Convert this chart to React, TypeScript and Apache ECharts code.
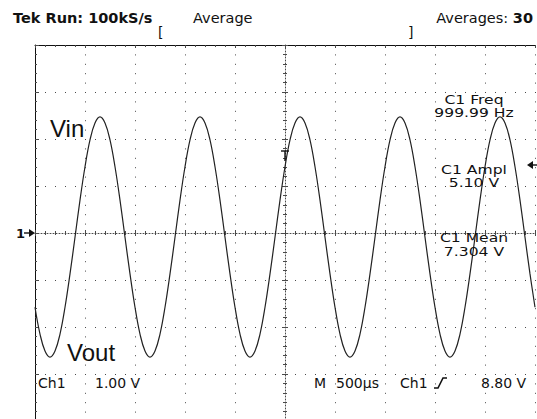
import React, { useEffect, useRef } from "react";
import * as echarts from "echarts";

// Acquisition record: samples 50 µs apart, centred on the trigger point.
const SAMPLE_INTERVAL_US = 50;
const RECORD_START_US = -2500;

// Screen span: 10 horizontal divisions of 500 µs, 8 vertical divisions of 1 V.
const TIME_MIN_US = -2500;
const TIME_MAX_US = 2500;
const TIME_PER_DIV_US = 500;
const VOLT_MIN = -4;
const VOLT_MAX = 4;
const VOLTS_PER_DIV = 1;

// Channel 1 trace in volts, relative to the ground marker.
const ch1Volts = [
  -1.58, -2.15, -2.51, -2.64, -2.51, -2.15, -1.58, -0.87, -0.09, 0.7,
  1.41, 1.98, 2.34, 2.47, 2.34, 1.98, 1.41, 0.7, -0.09, -0.87,
  -1.58, -2.15, -2.51, -2.64, -2.51, -2.15, -1.58, -0.87, -0.09, 0.7,
  1.41, 1.98, 2.34, 2.47, 2.34, 1.98, 1.41, 0.7, -0.09, -0.87,
  -1.58, -2.15, -2.51, -2.64, -2.51, -2.15, -1.58, -0.87, -0.09, 0.7,
  1.41, 1.98, 2.34, 2.47, 2.34, 1.98, 1.41, 0.7, -0.09, -0.87,
  -1.58, -2.15, -2.51, -2.64, -2.51, -2.15, -1.58, -0.87, -0.09, 0.7,
  1.41, 1.98, 2.34, 2.47, 2.34, 1.98, 1.41, 0.7, -0.09, -0.87,
  -1.58, -2.15, -2.51, -2.64, -2.51, -2.15, -1.58, -0.87, -0.09, 0.7,
  1.41, 1.98, 2.34, 2.47, 2.34, 1.98, 1.41, 0.7, -0.09, -0.87,
  -1.58,
];

// Readouts
const statusText = "Tek Run: 100kS/s";
const acquireMode = "Average";
const averagesLabel = "Averages:";
const averagesCount = "30";
const measurements = [
  { label: "C1 Freq", value: "999.99 Hz" },
  { label: "C1 Ampl", value: "5.10 V" },
  { label: "C1 Mean", value: "7.304 V" },
];
const channelName = "Ch1";
const channelScale = "1.00 V";
const timebase = "500µs";
const triggerLevel = "8.80 V";
const inputLabel = "Vin";
const outputLabel = "Vout";

const INK = "#111";
const DOTS = "#4a4a4a";
const SCOPE_FONT = "DejaVu Sans";

function text(x: number, y: number, str: string, size: number, opts: any = {}) {
  const align = opts.align || "left";
  return {
    type: "text",
    x,
    y,
    scaleX: opts.scaleX || 1,
    silent: true,
    z: 20,
    style: {
      text: str,
      fill: INK,
      fontSize: size,
      fontFamily: opts.family || SCOPE_FONT,
      fontWeight: opts.weight || "normal",
      align,
      textAlign: align,
      verticalAlign: "middle",
      textVerticalAlign: "middle",
    },
  };
}

export default function App() {
  const ref = useRef<HTMLDivElement>(null);

  useEffect(() => {
    document.body.style.margin = "0";
    if (!ref.current) return;
    const chart = echarts.init(ref.current, undefined, { renderer: "svg" });

    const trace = ch1Volts.map((v, i) => [RECORD_START_US + i * SAMPLE_INTERVAL_US, v]);

    const xBase = {
      type: "value",
      min: TIME_MIN_US,
      max: TIME_MAX_US,
      interval: TIME_PER_DIV_US,
      axisLabel: { show: false },
      splitLine: { show: false },
    };
    const yBase = {
      type: "value",
      min: VOLT_MIN,
      max: VOLT_MAX,
      interval: VOLTS_PER_DIV,
      axisLabel: { show: false },
      splitLine: { show: false },
    };

    // Centre graticule lines carry small cross ticks on both sides.
    const centreTick = { show: true, length: 3, lineStyle: { color: DOTS, width: 1 } };
    const centreMinor = { show: true, splitNumber: 5, length: 2, lineStyle: { color: DOTS, width: 1 } };

    const graphic: any[] = [];
    graphic.push(text(13, 18, statusText, 14.5, { weight: "bold" }));
    graphic.push(text(193, 18, acquireMode, 14.5));
    graphic.push({
      type: "text",
      x: 533,
      y: 18,
      silent: true,
      z: 20,
      style: {
        text: `{a|${averagesLabel}} {b|${averagesCount}}`,
        align: "right",
        textAlign: "right",
        verticalAlign: "middle",
        textVerticalAlign: "middle",
        fill: INK,
        fontSize: 14.5,
        fontFamily: SCOPE_FONT,
        rich: {
          a: { fontSize: 14.5, fontFamily: SCOPE_FONT, fill: INK },
          b: { fontSize: 14.5, fontFamily: SCOPE_FONT, fontWeight: "bold", fill: INK },
        },
      },
    });
    graphic.push(text(158, 32, "[", 14));
    graphic.push(text(408, 32, "]", 14));

    // Measurement readouts on the right of the screen (wide, compact screen font)
    const measY = [100, 170, 238];
    const measGap = [12.5, 12.5, 14];
    measurements.forEach((m, i) => {
      graphic.push(text(474, measY[i], m.label, 12, { align: "center", scaleX: 1.3 }));
      graphic.push(text(474, measY[i] + measGap[i], m.value, 12, { align: "center", scaleX: 1.3 }));
    });

    graphic.push(text(50, 128, inputLabel, 24, { family: "Liberation Sans" }));
    graphic.push(text(67, 352, outputLabel, 24, { family: "Liberation Sans" }));

    // Bottom status line
    graphic.push(text(38, 383, channelName, 14));
    graphic.push(text(95, 383, channelScale, 14));
    graphic.push(text(314, 383, "M", 14));
    graphic.push(text(336, 383, timebase, 14));
    graphic.push(text(400, 383, channelName, 14));
    graphic.push(text(481, 383, triggerLevel, 14));
    // rising-edge trigger slope symbol
    graphic.push({
      type: "polyline",
      silent: true,
      z: 20,
      shape: { points: [[434, 388], [438, 388], [443, 378], [447, 378]] },
      style: { stroke: INK, lineWidth: 1.6, fill: null },
    });

    // Channel 1 ground marker
    graphic.push(text(16, 233, "1", 13, { weight: "bold" }));
    graphic.push({
      type: "line",
      silent: true,
      z: 20,
      shape: { x1: 24, y1: 233, x2: 30, y2: 233 },
      style: { stroke: INK, lineWidth: 1.4 },
    });
    graphic.push({
      type: "polygon",
      silent: true,
      z: 20,
      shape: { points: [[29, 229], [35, 233], [29, 237]] },
      style: { fill: INK },
    });

    // Trigger level marker on the right edge
    graphic.push({
      type: "polygon",
      silent: true,
      z: 20,
      shape: { points: [[527, 165], [533, 161], [533, 169]] },
      style: { fill: INK },
    });
    graphic.push({
      type: "line",
      silent: true,
      z: 20,
      shape: { x1: 532, y1: 165, x2: 537, y2: 165 },
      style: { stroke: INK, lineWidth: 1.4 },
    });

    // Trigger position marker
    graphic.push({
      type: "polyline",
      silent: true,
      z: 20,
      shape: { points: [[281, 151], [289, 151]] },
      style: { stroke: INK, lineWidth: 1.4, fill: null },
    });
    graphic.push({
      type: "line",
      silent: true,
      z: 20,
      shape: { x1: 285, y1: 151, x2: 285, y2: 161 },
      style: { stroke: INK, lineWidth: 1.4 },
    });

    chart.setOption({
      animation: false,
      backgroundColor: "#ffffff",
      grid: { left: 35, top: 45, width: 500, height: 376, outerBoundsMode: "none" },
      xAxis: [
        {
          ...xBase,
          position: "top",
          axisLine: { show: true, onZero: false, lineStyle: { color: INK, width: 1 } },
          axisTick: { show: true, inside: true, length: 3, lineStyle: { color: DOTS } },
          minorTick: { show: true, splitNumber: 5, length: 2, lineStyle: { color: DOTS } },
          splitLine: { show: true, lineStyle: { color: DOTS, width: 1, type: [1, 8.4] } },
        },
        {
          ...xBase,
          position: "bottom",
          axisLine: { show: true, onZero: true, onZeroAxisIndex: 0, lineStyle: { color: DOTS, width: 1, type: [1, 2] } },
          axisTick: { ...centreTick, inside: false },
          minorTick: centreMinor,
        },
        {
          ...xBase,
          position: "bottom",
          axisLine: { show: false, onZero: true, onZeroAxisIndex: 0 },
          axisTick: { ...centreTick, inside: true },
          minorTick: centreMinor,
        },
      ],
      yAxis: [
        {
          ...yBase,
          position: "left",
          axisLine: { show: true, onZero: false, lineStyle: { color: INK, width: 1 } },
          axisTick: { show: true, inside: true, length: 4, lineStyle: { color: DOTS } },
          minorTick: { show: true, splitNumber: 5, length: 2, lineStyle: { color: DOTS } },
          splitLine: { show: true, lineStyle: { color: DOTS, width: 1, type: [1, 9] } },
        },
        {
          ...yBase,
          position: "left",
          axisLine: { show: true, onZero: true, onZeroAxisIndex: 0, lineStyle: { color: DOTS, width: 1, type: [1, 2] } },
          axisTick: { ...centreTick, inside: false },
          minorTick: centreMinor,
        },
        {
          ...yBase,
          position: "left",
          axisLine: { show: false, onZero: true, onZeroAxisIndex: 0 },
          axisTick: { ...centreTick, inside: true },
          minorTick: centreMinor,
        },
      ],
      series: [
        {
          name: "Ch1",
          type: "line",
          xAxisIndex: 0,
          yAxisIndex: 0,
          data: trace,
          showSymbol: false,
          smooth: 0.4,
          silent: true,
          z: 10,
          lineStyle: { color: "#222", width: 1.2 },
        },
      ],
      graphic: { elements: graphic },
    });

    return () => chart.dispose();
  }, []);

  return (
    <div
      ref={ref}
      style={{ width: 537, height: 419, overflow: "hidden", background: "#fff" }}
    />
  );
}
